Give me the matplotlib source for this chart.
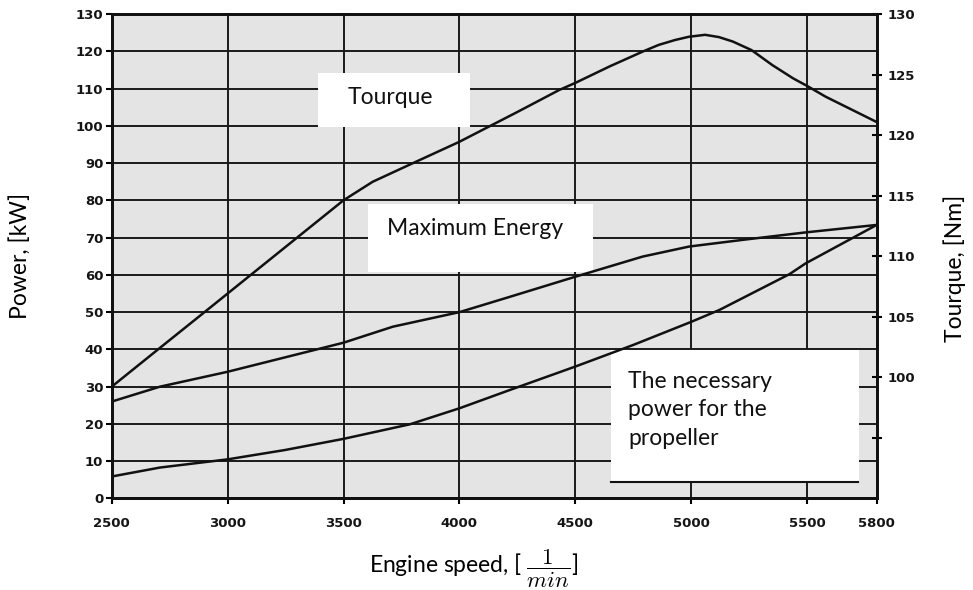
import matplotlib
matplotlib.use('Agg')
import matplotlib.pyplot as plt
from matplotlib.patches import Rectangle
from matplotlib.lines import Line2D

# ---- data ----
rpm_torque = [2500, 2700, 2900, 3100, 3300, 3500, 3626, 3800, 4000, 4250, 4430,
              4500, 4650, 4790, 4860, 4930, 4990, 5060, 5120, 5180, 5260, 5350,
              5440, 5500, 5580, 5800]
torque_nm = [99.23, 102.31, 105.38, 108.46, 111.54, 114.62, 116.15, 117.69,
             119.45, 121.91, 123.72, 124.31, 125.69, 126.89, 127.45, 127.85,
             128.12, 128.28, 128.09, 127.72, 127.02, 125.78, 124.68, 124.06,
             123.17, 121.08]

rpm_energy = [2500, 2708, 3000, 3500, 3713, 4000, 4217, 4500, 4790, 4991, 5236,
              5494, 5800]
power_energy = [26.0, 30.0, 34.0, 41.8, 46.1, 50.0, 54.1, 59.5, 64.9, 67.6, 69.5,
                71.4, 73.4]

rpm_prop = [2500, 2708, 3000, 3247, 3500, 3786, 4000, 4217, 4500, 4750, 5000,
            5122, 5424, 5494, 5800]
power_prop = [5.9, 8.3, 10.5, 13.0, 16.0, 19.9, 24.2, 29.1, 35.4, 41.2, 47.4,
              50.6, 60.2, 63.1, 73.4]

x_ticks = [2500, 3000, 3500, 4000, 4500, 5000, 5500, 5800]
power_ticks = list(range(0, 131, 10))
torque_ticks = [95, 100, 105, 110, 115, 120, 125, 130]
torque_tick_labels = ['', '100', '105', '110', '115', '120', '125', '130']

label_torque = 'Tourque'
label_energy = 'Maximum Energy'
label_prop = 'The necessary\npower for the\npropeller'

plt.rcParams['font.family'] = ['Lato', 'DejaVu Sans']
plt.rcParams['mathtext.fontset'] = 'cm'

fig = plt.figure(figsize=(9.73, 5.90), dpi=100)
ax = fig.add_axes([0.1148, 0.1551, 0.7862, 0.8212])
ax.set_facecolor('#e4e4e4')
ax.set_xlim(2500, 5800)
ax.set_ylim(0, 130)
ax.set_xticks(x_ticks)
ax.set_yticks(power_ticks)
ax.grid(True, color='#1a1a1a', linewidth=1.4)

for s in ax.spines.values():
    s.set_linewidth(2.0)
    s.set_color('#111111')

ax.tick_params(axis='y', direction='out', length=4, width=1.5, pad=2,
               labelsize=9.5, labelcolor='#151515')
ax.tick_params(axis='x', direction='out', length=4, width=1.5, pad=9,
               labelsize=9.5, labelcolor='#151515')

ax.plot(rpm_energy, power_energy, color='#111111', linewidth=1.8, zorder=3)
ax.plot(rpm_prop, power_prop, color='#111111', linewidth=1.8, zorder=3)

ax2 = ax.twinx()
ax2.set_ylim(90, 130)
ax2.set_yticks(torque_ticks, torque_tick_labels)
ax2.tick_params(axis='y', direction='inout', length=7, width=1.5, pad=4,
                labelsize=9.5, labelcolor='#151515')
for s in ax2.spines.values():
    s.set_linewidth(2.0)
    s.set_color('#111111')
ax2.plot(rpm_torque, torque_nm, color='#111111', linewidth=1.8)

for lab in ax.get_xticklabels() + ax.get_yticklabels() + ax2.get_yticklabels():
    lab.set_fontfamily('DejaVu Sans')
    lab.set_fontweight('bold')

# axis labels
ax.set_ylabel('Power, [kW]', fontsize=16.5, va='center')
ax.yaxis.set_label_coords(-0.12, 0.5)
ax2.set_ylabel('Tourque, [Nm]', fontsize=16.5, va='center')
ax2.yaxis.set_label_coords(1.1024, 0.474)
ax.set_xlabel(r'Engine speed, [ $\dfrac{1}{min}$]', fontsize=16.5, va='center')
ax.xaxis.set_label_coords(0.4736, -0.145)

# white annotation boxes
def box(x0, x1, y0, y1):
    ax.add_patch(Rectangle((x0, y0), x1 - x0, y1 - y0, transform=ax.transAxes,
                           facecolor='white', edgecolor='none', zorder=2))

box(0.2697, 0.4684, 0.7674, 0.8789)
ax.text(0.3089, 0.8266, label_torque, transform=ax.transAxes, fontsize=16.5,
        va='center', ha='left', color='#111111', zorder=4)

box(0.3354, 0.6288, 0.4665, 0.6078)
ax.text(0.3599, 0.5577, label_energy, transform=ax.transAxes, fontsize=16.5,
        va='center', ha='left', color='#111111', zorder=4)

box(0.6527, 0.9773, 0.0347, 0.3065)
ax.text(0.6749, 0.1827, label_prop, transform=ax.transAxes, fontsize=16.5,
        va='center', ha='left', color='#111111', linespacing=1.45, zorder=4)
ax.add_line(Line2D([0.6527, 0.975], [0.0347, 0.0347], transform=ax.transAxes,
                   color='#111111', linewidth=1.5, zorder=4))

fig.savefig('out.png', dpi=100)
